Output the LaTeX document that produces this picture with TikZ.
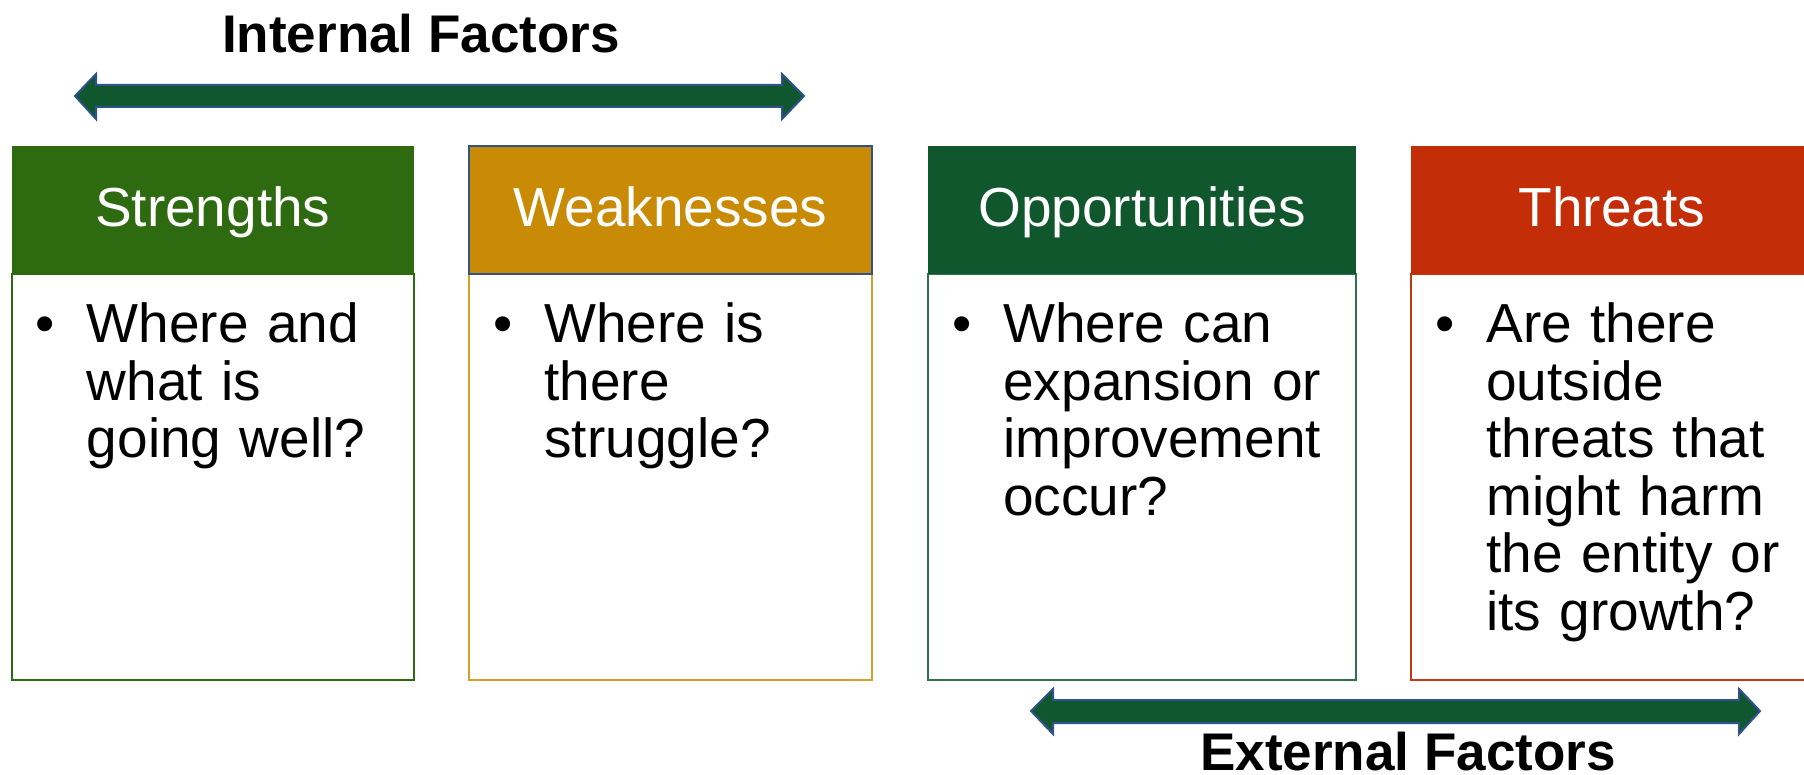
\documentclass[tikz,border=0pt]{standalone}
\usepackage{fontspec}
\setmainfont{Liberation Sans}
\definecolor{sgreen}{HTML}{2E6A0F}
\definecolor{wochre}{HTML}{C98A06}
\definecolor{wborder}{HTML}{DA9F29}
\definecolor{ogreen}{HTML}{10572E}
\definecolor{oborder}{HTML}{2F7050}
\definecolor{tred}{HTML}{C32E08}
\definecolor{tborder}{HTML}{C6360F}
\definecolor{arrowfill}{HTML}{10572F}
\definecolor{arrowline}{HTML}{2F528F}
\tikzset{
  headbox/.style={rectangle, inner sep=0pt, minimum height=64pt, text=white,
    font=\fontsize{27.5}{30}\selectfont, text height=20pt, text depth=3pt},
  bodybox/.style={rectangle, inner sep=0pt, minimum height=203pt, fill=white, line width=1pt},
  bodytext/.style={anchor=base west, inner sep=0pt, text width=170pt, align=left,
    font=\fontsize{27.5}{28.75}\selectfont},
  bulletmark/.style={anchor=base, inner sep=0pt, font=\fontsize{27.5}{28.75}\selectfont},
  titletext/.style={anchor=base, inner sep=0pt, font=\bfseries\fontsize{26.5}{30}\selectfont},
  blockarrow/.style={fill=arrowfill, draw=arrowline, line width=1pt, line join=miter}
}
\begin{document}
\begin{tikzpicture}[x=0.5pt,y=-0.5pt]
\useasboundingbox (0,0) rectangle (1804,775);
\clip (0,0) rectangle (1804,775);

% titles
\node[titletext] (intl) at (421,53) {Internal Factors};
\node[titletext] (extl) at (1408,770) {External Factors};

% top block arrow
\coordinate (ta) at (75,96);
\coordinate (tb) at (804,96);
\draw[blockarrow] (ta) -- (96,74) -- (96,85) -- (782,85) -- (782,74) -- (tb)
  -- (782,119) -- (782,107) -- (96,107) -- (96,119) -- cycle;

% bottom block arrow
\coordinate (ba) at (1031,711);
\coordinate (bb) at (1760,711);
\draw[blockarrow] (ba) -- (1053,689) -- (1053,700) -- (1739,700) -- (1739,689) -- (bb)
  -- (1739,734) -- (1739,723) -- (1053,723) -- (1053,734) -- cycle;

% Strengths
\node[bodybox, draw=sgreen, minimum width=201.25pt] (sbody) at (212.75,477) {};
\node[headbox, fill=sgreen, minimum width=201.25pt] (shead) at (212.75,210) {Strengths};
\node[bulletmark] (sbul) at (45.5,343) {•};
\node[bodytext] (stxt) at (86.5,343) {Where and\\what is\\going well?};

% Weaknesses
\node[bodybox, draw=wborder, minimum width=201.5pt] (wbody) at (670.5,477) {};
\node[headbox, fill=wochre, draw=arrowline, line width=0.6pt, minimum width=201.5pt] (whead) at (670.5,210) {Weaknesses};
\node[bulletmark] (wbul) at (503,343) {•};
\node[bodytext] (wtxt) at (544,343) {Where is\\there\\struggle?};

% Opportunities
\node[bodybox, draw=oborder, minimum width=214pt] (obody) at (1142,477) {};
\node[headbox, fill=ogreen, minimum width=214pt] (ohead) at (1142,210) {Opportunities};
\node[bulletmark] (obul) at (962,343) {•};
\node[bodytext] (otxt) at (1003,343) {Where can\\expansion or\\improvement\\occur?};

% Threats
\node[bodybox, draw=tborder, minimum width=201pt] (tbody) at (1612,477) {};
\node[headbox, fill=tred, minimum width=201pt] (thead) at (1612,210) {Threats};
\node[bulletmark] (tbul) at (1445,343) {•};
\node[bodytext] (ttxt) at (1486,343) {Are there\\outside\\threats that\\might harm\\the entity or\\its growth?};
\end{tikzpicture}
\end{document}
